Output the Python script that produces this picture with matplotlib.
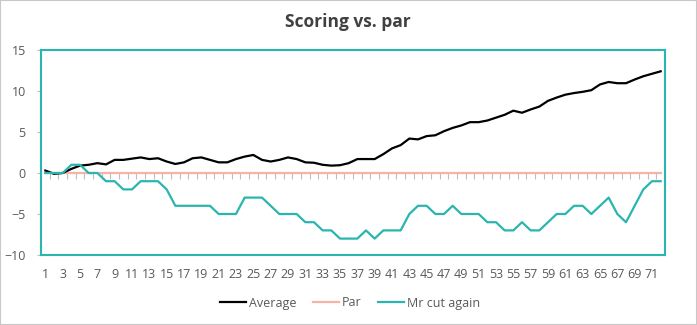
import matplotlib
matplotlib.use("Agg")
import matplotlib.pyplot as plt
from matplotlib.patches import Rectangle
import numpy as np

plt.rcParams['font.family'] = ['Open Sans', 'DejaVu Sans']

holes = list(range(1, 73))
average = [0.3, -0.1, 0.0, 0.5, 0.9, 1.0, 1.2, 1.05, 1.6, 1.6, 1.75, 1.9,
           1.7, 1.8, 1.4, 1.1, 1.3, 1.8, 1.9, 1.6, 1.3, 1.3, 1.7, 2.0,
           2.2, 1.6, 1.4, 1.6, 1.9, 1.7, 1.3, 1.25, 1.0, 0.9, 0.95, 1.2,
           1.7, 1.7, 1.7, 2.3, 3.0, 3.4, 4.2, 4.1, 4.5, 4.6, 5.1, 5.5,
           5.8, 6.2, 6.2, 6.4, 6.75, 7.1, 7.6, 7.35, 7.75, 8.1, 8.8, 9.2,
           9.55, 9.75, 9.9, 10.1, 10.8, 11.1, 10.95, 10.95, 11.4, 11.8, 12.1, 12.4]
par = [0] * 72
mr_cut = [0, 0, 0, 1, 1, 0, 0, -1, -1, -2, -2, -1,
          -1, -1, -2, -4, -4, -4, -4, -4, -5, -5, -5, -3,
          -3, -3, -4, -5, -5, -5, -6, -6, -7, -7, -8, -8,
          -8, -7, -8, -7, -7, -7, -5, -4, -4, -5, -5, -4,
          -5, -5, -5, -6, -6, -7, -7, -6, -7, -7, -6, -5,
          -5, -4, -4, -5, -4, -3, -5, -6, -4, -2, -1, -1]

teal = '#2ab5ae'
fig = plt.figure(figsize=(6.97, 3.25), dpi=100)
ax = fig.add_axes([41/697, 70/325, 624/697, 205/325])

ax.plot(holes, average, color='black', lw=1.6, label='Average', zorder=3)
ax.plot(holes, par, color='#f6b4a6', lw=1.6, label='Par', zorder=2)
ax.plot(holes, mr_cut, color=teal, lw=1.6, label='Mr cut again', zorder=3)

ax.set_xlim(0.5, 72.5)
ax.set_ylim(-10, 15)
ax.set_yticks(range(-10, 16, 5))
ax.set_xticks(holes[::2])
ax.tick_params(axis='x', length=0, pad=9, labelsize=9, labelcolor='#595959')
ax.tick_params(axis='y', length=3, color='#bfbfbf', pad=8, labelsize=9, labelcolor='#595959')
for s in ax.spines.values():
    s.set_color(teal)
    s.set_linewidth(1.5)

# category tick marks along the zero line
sec = ax.secondary_xaxis(0.4)
sec.set_xticks(np.arange(1.5, 72, 1))
sec.tick_params(direction='out', length=4, color='#bfbfbf', labelbottom=False)
sec.spines['bottom'].set_visible(False)

fig.suptitle('Scoring vs. par', x=348/697, y=1 - 22/325, va='center',
             fontsize=12.5, fontweight='bold', color='#404040')
fig.legend(loc='center', bbox_to_anchor=(350/697, 1 - 303/325), ncol=3,
           frameon=False, fontsize=9, handlelength=2.1, columnspacing=1.3,
           handletextpad=0.25, labelcolor='#595959')
fig.patches.append(Rectangle((0, 0), 1, 1, transform=fig.transFigure,
                             fill=False, edgecolor='#c8c8c8', lw=1.5))
fig.savefig('out.png', dpi=100)
